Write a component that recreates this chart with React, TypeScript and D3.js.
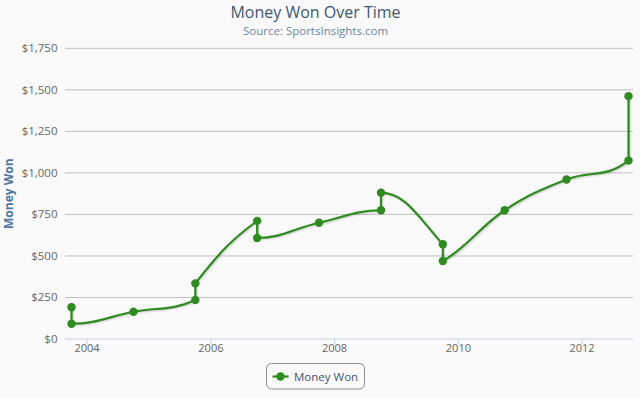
import React from "react";
import * as d3 from "d3";

const dates: string[] = [
  "2003-10-01", "2003-10-01", "2004-10-01", "2005-10-01", "2005-10-01",
  "2006-10-01", "2006-10-01", "2007-10-01", "2008-10-01", "2008-10-01",
  "2009-10-01", "2009-10-01", "2010-10-01", "2011-10-01", "2012-10-01", "2012-10-01",
];
const values: number[] = [191, 92, 164, 235, 335, 711, 608, 700, 775, 880, 570, 470, 775, 960, 1074, 1462];
const yTicks: number[] = [0, 250, 500, 750, 1000, 1250, 1500, 1750];
const seriesName = "Money Won";
const titleText = "Money Won Over Time";
const subtitleText = "Source: SportsInsights.com";

const W = 640;
const H = 398;
const plotLeft = 65;
const plotRight = 633;
const plotTop = 48.3;
const plotBottom = 339;
const green = "#2E8B1F";
const font = "'Open Sans', 'DejaVu Sans', sans-serif";

const parse = d3.timeParse("%Y-%m-%d");

type P = { x: number; y: number; rcx?: number | null; rcy?: number | null };

function splinePath(pts: P[]): string {
  const smoothing = 1.5;
  const denom = smoothing + 1;
  const parts: string[] = [];
  for (let i = 0; i < pts.length; i++) {
    const p = pts[i];
    let lcx: number | undefined;
    let lcy: number | undefined;
    if (i > 0 && i < pts.length - 1) {
      const last = pts[i - 1];
      const next = pts[i + 1];
      lcx = (smoothing * p.x + last.x) / denom;
      lcy = (smoothing * p.y + last.y) / denom;
      const rcx = (smoothing * p.x + next.x) / denom;
      let rcy = (smoothing * p.y + next.y) / denom;
      const corr = ((rcy - lcy) * (rcx - p.x)) / (rcx - lcx) + p.y - rcy;
      lcy += corr;
      rcy += corr;
      if (lcy > last.y && lcy > p.y) {
        lcy = Math.max(last.y, p.y);
        rcy = 2 * p.y - lcy;
      } else if (lcy < last.y && lcy < p.y) {
        lcy = Math.min(last.y, p.y);
        rcy = 2 * p.y - lcy;
      }
      if (rcy > next.y && rcy > p.y) {
        rcy = Math.max(next.y, p.y);
        lcy = 2 * p.y - rcy;
      } else if (rcy < next.y && rcy < p.y) {
        rcy = Math.min(next.y, p.y);
        lcy = 2 * p.y - rcy;
      }
      p.rcx = rcx;
      p.rcy = rcy;
    }
    if (i === 0) {
      parts.push(`M${p.x},${p.y}`);
    } else {
      const last = pts[i - 1];
      const c1x = last.rcx ?? last.x;
      const c1y = last.rcy ?? last.y;
      parts.push(`C${c1x},${c1y},${lcx ?? p.x},${lcy ?? p.y},${p.x},${p.y}`);
    }
  }
  return parts.join("");
}

export default function App() {
  const parsed = dates.map((d) => parse(d) as Date);
  const x = d3
    .scaleTime()
    .domain([parse("2003-10-01") as Date, parse("2012-10-01") as Date])
    .range([71.5, 628.5]);
  const y = d3.scaleLinear().domain([0, 1750]).range([plotBottom, plotTop]);
  const xTicks = x.ticks(d3.timeYear.every(2) as any);

  const pts: P[] = parsed.map((d, i) => ({ x: x(d), y: y(values[i]) }));
  const path = splinePath(pts);

  const fmt = (v: number) => "$" + d3.format(",")(v);

  return (
    <svg width={W} height={H} style={{ display: "block", position: "absolute", left: 0, top: 0 }}>
      <rect x={0} y={0} width={W} height={H} fill="#FAFAFA" />
      <text x={315.5} y={17.6} textAnchor="middle" fontFamily={font} fontSize={16} fill="#3E576F">
        {titleText}
      </text>
      <text x={315.5} y={34.9} textAnchor="middle" fontFamily={font} fontSize={11.5} fill="#6D869F">
        {subtitleText}
      </text>
      {yTicks.map((t) => (
        <g key={t}>
          {t > 0 && (
            <line x1={plotLeft} x2={plotRight} y1={y(t)} y2={y(t)} stroke="#C0C0C0" strokeWidth={1} />
          )}
          <text x={57.5} y={y(t) + 4} textAnchor="end" fontFamily={font} fontSize={11.5} fill="#666">
            {fmt(t)}
          </text>
        </g>
      ))}
      <line x1={plotLeft} x2={plotRight} y1={plotBottom} y2={plotBottom} stroke="#C0D0E0" strokeWidth={1} />
      {xTicks.map((t) => (
        <g key={t.getTime()}>
          <line x1={x(t)} x2={x(t)} y1={plotBottom} y2={plotBottom + 5} stroke="#C0D0E0" strokeWidth={1} />
          <text x={x(t)} y={352} textAnchor="middle" fontFamily={font} fontSize={11} fill="#666">
            {d3.timeFormat("%Y")(t)}
          </text>
        </g>
      ))}
      <text
        transform={`translate(12.5,${(plotTop + plotBottom) / 2}) rotate(-90)`}
        textAnchor="middle"
        fontFamily={font}
        fontSize={12}
        fontWeight="bold"
        fill="#4D759E"
      >
        {seriesName}
      </text>
      <g>
        {[5, 3, 1].map((w, i) => (
          <path
            key={i}
            d={path}
            fill="none"
            stroke="rgb(0,0,0)"
            strokeOpacity={0.03 * (i + 1)}
            strokeWidth={w}
            transform="translate(1,1)"
          />
        ))}
        <path d={path} fill="none" stroke={green} strokeWidth={2.2} strokeLinejoin="round" />
        {pts.map((p, i) => (
          <circle key={i} cx={p.x} cy={p.y} r={4.2} fill={green} />
        ))}
      </g>
      <g>
        <rect x={266.5} y={363.5} width={98} height={25.5} rx={5} fill="#FAFAFA" stroke="#909090" strokeWidth={1} />
        <line x1={272.5} x2={288.5} y1={376.5} y2={376.5} stroke={green} strokeWidth={2.2} />
        <circle cx={280.5} cy={376.5} r={4.2} fill={green} />
        <text x={294} y={380.8} fontFamily={font} fontSize={11.5} fill="#3E576F">
          {seriesName}
        </text>
      </g>
    </svg>
  );
}
